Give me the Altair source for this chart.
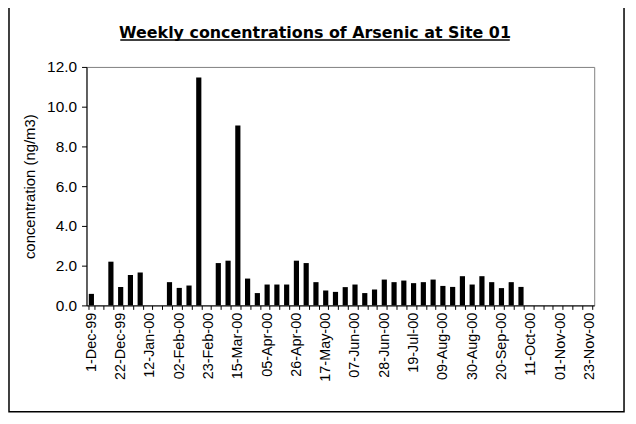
import json
import altair as alt
import pandas as pd

TITLE = "Weekly concentrations of Arsenic at Site 01"
Y_TITLE = "concentration (ng/m3)"
TICK_LABELS = ["1-Dec-99", "22-Dec-99", "12-Jan-00", "02-Feb-00", "23-Feb-00", "15-Mar-00",
               "05-Apr-00", "26-Apr-00", "17-May-00", "07-Jun-00", "28-Jun-00", "19-Jul-00",
               "09-Aug-00", "30-Aug-00", "20-Sep-00", "11-Oct-00", "01-Nov-00", "23-Nov-00"]
N_WEEKS = 52
CONC = [0.58, None, 2.2, 0.93, 1.53, 1.65, None, None, 1.17, 0.88,
        1.0, 11.47, None, 2.13, 2.25, 9.05, 1.35, 0.62, 1.05, 1.05,
        1.05, 2.25, 2.13, 1.17, 0.75, 0.68, 0.92, 1.05, 0.62, 0.8,
        1.3, 1.17, 1.25, 1.12, 1.17, 1.3, 0.98, 0.93, 1.47, 1.05,
        1.47, 1.17, 0.87, 1.17, 0.93, None, None, None, None, None,
        None, None]
Y_TICKS = [0, 2, 4, 6, 8, 10, 12]

rows = [{"week": i, "conc": v} for i, v in enumerate(CONC) if v is not None]
df = pd.DataFrame(rows)

label_expr = "datum.value % 3 == 0 ? " + json.dumps(TICK_LABELS) + "[datum.value / 3] : ''"

W, H = 511, 240

bars = alt.Chart(df).mark_bar(color="black").encode(
    x=alt.X("week:O",
            scale=alt.Scale(domain=list(range(N_WEEKS)), paddingInner=0.47, paddingOuter=0.235),
            axis=alt.Axis(title=None, labelExpr=label_expr, labelAngle=270, labelAlign="right",
                          labelBaseline="middle", labelOverlap=False, labelFont="Liberation Sans",
                          labelFontSize=14.5, labelColor="black", labelPadding=3,
                          tickBand="extent", tickSize=4, tickColor="black",
                          domainColor="black", labelFlush=False)),
    y=alt.Y("conc:Q",
            scale=alt.Scale(domain=[0, 12], nice=False),
            axis=alt.Axis(values=Y_TICKS, format=".1f", title=Y_TITLE,
                          titleFont="Liberation Sans", titleFontSize=15, titleFontWeight="normal",
                          titleColor="black", titleX=-57, titleY=120, titleAngle=270,
                          titleAlign="center", titleBaseline="middle",
                          labelFont="Liberation Sans", labelFontSize=15.5, labelColor="black",
                          labelPadding=5, tickSize=5, tickColor="black", domainColor="black",
                          grid=False)),
)

deco = alt.Chart(alt.Data(values=[{}]))
border = deco.mark_rect(fillOpacity=0, stroke="black", strokeWidth=1.5).encode(
    x=alt.value(-78), x2=alt.value(541), y=alt.value(-63), y2=alt.value(347))
title_text = deco.mark_text(text=TITLE, font="DejaVu Sans", fontSize=16, fontWeight="bold",
                            align="center", baseline="alphabetic", color="black").encode(
    x=alt.value(230), y=alt.value(-29.5))
underline = deco.mark_rule(color="black", strokeWidth=1.5).encode(
    x=alt.value(34), x2=alt.value(426), y=alt.value(-27))

chart = alt.layer(border, bars, title_text, underline).properties(
    width=W, height=H,
    padding={"left": 79, "top": 58, "right": 34, "bottom": 110},
    autosize=alt.AutoSizeParams(type="none"),
).configure_view(stroke="#808080", strokeWidth=1)

chart.save("out.html", embed_options={"renderer": "svg", "actions": False})
